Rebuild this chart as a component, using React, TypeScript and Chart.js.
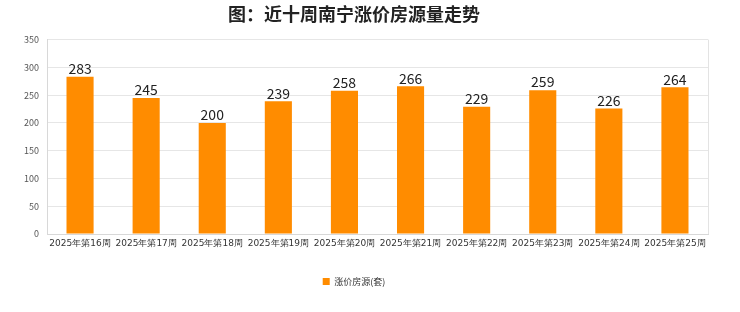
import React, { useEffect, useRef } from "react";
import { Chart, registerables } from "chart.js";

Chart.register(...registerables);

const categories = [
  "2025年第16周", "2025年第17周", "2025年第18周", "2025年第19周", "2025年第20周",
  "2025年第21周", "2025年第22周", "2025年第23周", "2025年第24周", "2025年第25周",
];
const seriesName = "涨价房源(套)";
const values = [283, 245, 200, 239, 258, 266, 229, 259, 226, 264];
const yTicks = [0, 50, 100, 150, 200, 250, 300, 350];
const titleText = "图：近十周南宁涨价房源量走势";

const FONT = "'Noto Sans CJK SC', 'Noto Sans', sans-serif";

const labelPlugin = {
  id: "barLabels",
  afterDatasetsDraw(chart: any) {
    const ctx = chart.ctx;
    const meta = chart.getDatasetMeta(0);
    ctx.save();
    ctx.font = `14px ${FONT}`;
    ctx.fillStyle = "#222";
    ctx.textAlign = "center";
    ctx.textBaseline = "bottom";
    meta.data.forEach((bar: any, i: number) => {
      ctx.fillText(String(values[i]), bar.x, bar.y - 1);
    });
    ctx.restore();
  },
  beforeDatasetsDraw(chart: any) {
    const { ctx, chartArea } = chart;
    ctx.save();
    ctx.strokeStyle = "#e3e3e3";
    ctx.lineWidth = 1;
    ctx.beginPath();
    ctx.moveTo(Math.round(chartArea.right) + 0.5, chartArea.top);
    ctx.lineTo(Math.round(chartArea.right) + 0.5, chartArea.bottom);
    ctx.stroke();
    ctx.restore();
  },
};

export default function App() {
  const ref = useRef<HTMLCanvasElement>(null);
  useEffect(() => {
    document.body.style.margin = "0";
    const chart = new Chart(ref.current!, {
      type: "bar",
      data: {
        labels: categories,
        datasets: [
          {
            label: seriesName,
            data: values,
            backgroundColor: "#ff8c00",
            categoryPercentage: 1,
            barPercentage: 0.41,
          },
        ],
      },
      options: {
        animation: false,
        responsive: false,
        layout: { padding: { left: 0, right: 32, top: 0, bottom: 16 } },
        plugins: {
          title: {
            display: true,
            text: titleText,
            font: { family: FONT, size: 18, weight: "bold" },
            color: "#222",
            padding: { top: 3, bottom: 15 },
          },
          legend: {
            position: "bottom",
            labels: {
              boxWidth: 7,
              boxHeight: 7,
              font: { family: FONT, size: 9 },
              color: "#333",
              padding: 6,
            },
          },
          tooltip: { enabled: false },
        },
        scales: {
          x: {
            grid: { display: false, drawTicks: false },
            border: { color: "#d8d8d8" },
            afterFit(scale: any) {
              scale.height = 37;
            },
            ticks: {
              font: { family: "'DejaVu Sans', sans-serif", size: 9 },
              color: "#333",
              maxRotation: 0,
              autoSkip: false,
              padding: 4,
            },
          },
          y: {
            min: 0,
            max: 350,
            afterFit(scale: any) {
              scale.width = 47;
            },
            afterBuildTicks(scale: any) {
              scale.ticks = yTicks.map((v) => ({ value: v }));
            },
            grid: { color: "#e6e6e6", drawTicks: false },
            border: { color: "#d8d8d8" },
            ticks: {
              font: { family: FONT, size: 9 },
              color: "#555",
              padding: 8,
            },
          },
        },
      },
      plugins: [labelPlugin],
    });
    return () => chart.destroy();
  }, []);
  return (
    <div style={{ width: 740, height: 312 }}>
      <canvas ref={ref} width={740} height={312} />
    </div>
  );
}
